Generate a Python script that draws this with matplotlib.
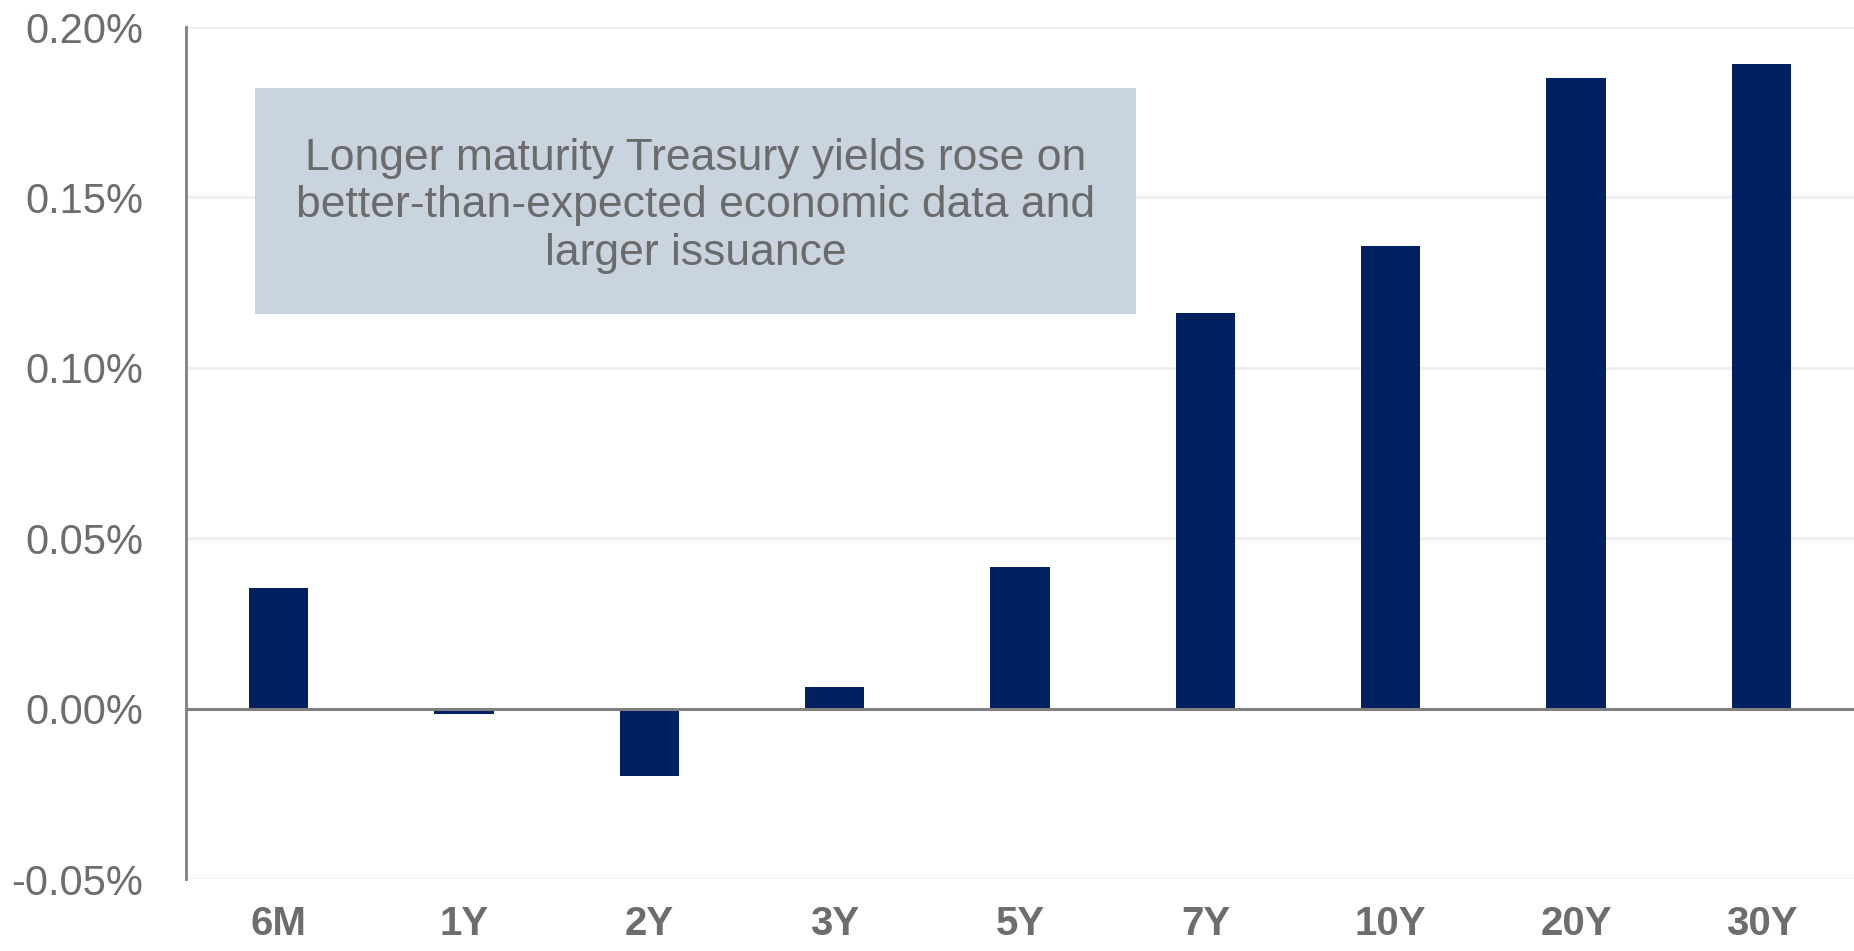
import matplotlib
matplotlib.use("Agg")
import matplotlib.pyplot as plt
from matplotlib.patches import Rectangle
from matplotlib.ticker import FuncFormatter, MultipleLocator

categories = ["6M", "1Y", "2Y", "3Y", "5Y", "7Y", "10Y", "20Y", "30Y"]
values = [0.0353, -0.0015, -0.0198, 0.0062, 0.0416, 0.1162, 0.1356, 0.1849, 0.1891]
y_ticks_step = 0.05
note = ("Longer maturity Treasury yields rose on\n"
        "better-than-expected economic data and\n"
        "larger issuance")

plt.rcParams['font.family'] = ['Liberation Sans', 'DejaVu Sans']

fig = plt.figure(figsize=(18.54, 9.51), dpi=100)
ax = fig.add_axes([0.1003, 0.0757, 0.8997, 0.8959])

x = list(range(len(categories)))
ax.bar(x, values, width=0.32, color="#00205F", zorder=2)
ax.axhline(0, color="#7f7f7f", linewidth=2.2, zorder=3)

ax.set_xlim(-0.5, len(categories) - 0.5)
ax.set_ylim(-0.05, 0.20)
ax.yaxis.set_major_locator(MultipleLocator(y_ticks_step))
ax.yaxis.set_major_formatter(FuncFormatter(lambda v, p: f"{v:.2f}%"))
ax.set_xticks(x)
ax.set_xticklabels(categories, fontsize=29, fontweight="bold", color="#6d6d6d")
ax.tick_params(axis="y", labelsize=30, labelcolor="#6d6d6d", length=0, pad=31)
ax.tick_params(axis="x", length=0, pad=19)

ax.grid(axis="y", color="#eeeeee", linewidth=2, zorder=0)
ax.set_axisbelow(True)
for s in ["top", "right", "bottom"]:
    ax.spines[s].set_visible(False)
ax.spines["left"].set_color("#808080")
ax.spines["left"].set_linewidth(2)

ax.add_patch(Rectangle((0.0414, 0.6631), 0.5281, 0.2653, transform=ax.transAxes,
                       facecolor="#C9D4DF", edgecolor="none", zorder=4))
ax.text(0.3055, 0.790, note, transform=ax.transAxes, ha="center", va="center",
        fontsize=32, color="#6b6b6b", linespacing=1.2, zorder=5)

fig.savefig("out.png", dpi=100)
